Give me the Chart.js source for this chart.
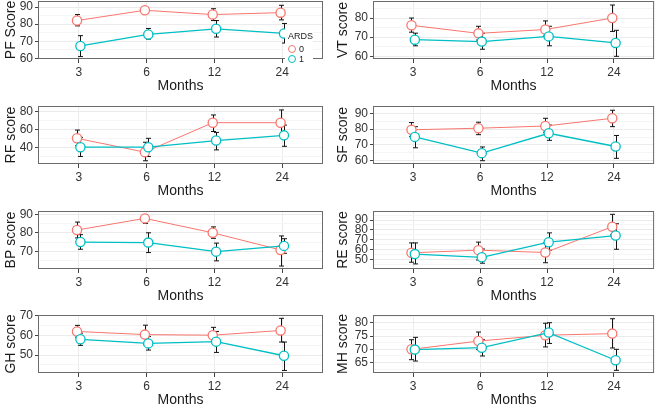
<!DOCTYPE html>
<html>
<head>
<meta charset="utf-8">
<script src="https://cdn.jsdelivr.net/npm/chart.js@4.4.0/dist/chart.umd.min.js"></script>
<style>
  html, body { margin: 0; padding: 0; background: #fff; }
  #wrap { position: relative; width: 660px; height: 408px; overflow: hidden; background: #fff; }
  #wrap canvas { position: absolute; }
  #legend { position: absolute; left: 285px; top: 28px; width: 28px; height: 36px; background: #fff;
            font-family: 'Liberation Sans', Arial, sans-serif; font-size: 9px; color: #222; }
  #legend .t { position: absolute; left: 3px; top: 3px; }
  #legend .k { position: absolute; left: 3px; width: 8px; height: 8px; border-radius: 50%; background: #fff; box-sizing: border-box; }
  #legend .l { position: absolute; left: 14px; }
</style>
</head>
<body>
<div id="wrap">
  <div id="legend">
    <div class="t">ARDS</div>
    <div class="k" style="top:17px;border:1.2px solid #F8766D"></div><div class="l" style="top:16px">0</div>
    <div class="k" style="top:27px;border:1.2px solid #00BFC4"></div><div class="l" style="top:26px">1</div>
  </div>
</div>
<script>
const months = ['3', '6', '12', '24'];

// PF
const pf0 = [82.1, 88.1, 85.6, 86.7], pf0Lo = [79.0, 86.4, 82.1, 82.5], pf0Hi = [85.6, 89.8, 89.0, 91.0];
const pf1 = [67.3, 74.0, 77.3, 74.6], pf1Lo = [61.1, 71.3, 72.5, 69.0], pf1Hi = [73.3, 77.5, 82.1, 80.4];
const pfTicks = [60, 70, 80, 90], pfRange = [59.7, 93.5];
// VT
const vt0 = [76.2, 72.0, 74.0, 80.0], vt0Lo = [72.6, 68.5, 70.6, 73.0], vt0Hi = [80.0, 75.7, 78.5, 86.8];
const vt1 = [68.7, 67.7, 70.4, 67.0], vt1Lo = [65.5, 63.7, 65.5, 60.0], vt1Hi = [72.1, 72.0, 75.7, 73.6];
const vtTicks = [60, 70, 80], vtRange = [58.6, 88.9];
// RF
const rf0 = [49.9, 34.5, 67.3, 67.3], rf0Lo = [41.8, 24.9, 57.5, 53.9], rf0Hi = [59.1, 45.5, 75.9, 81.5];
const rf1 = [40.0, 40.0, 47.4, 53.2], rf1Lo = [29.7, 29.7, 37.0, 41.0], rf1Hi = [51.0, 49.9, 56.5, 64.6];
const rfTicks = [40, 60, 80], rfRange = [21.3, 85.9];
// SF
const sf0 = [79.6, 80.6, 82.0, 86.9], sf0Lo = [75.4, 76.5, 78.0, 81.6], sf0Hi = [84.2, 84.4, 86.9, 92.0];
const sf1 = [75.1, 64.8, 77.4, 69.0], sf1Lo = [68.2, 60.0, 72.9, 61.5], sf1Hi = [81.6, 68.7, 82.6, 76.0];
const sfTicks = [60, 70, 80, 90], sfRange = [57.9, 94.7];
// BP
const bp0 = [81.5, 87.8, 80.0, 70.7], bp0Lo = [77.2, 85.1, 77.0, 62.0], bp0Hi = [85.8, 89.8, 83.2, 78.3];
const bp1 = [75.0, 74.7, 69.8, 72.9], bp1Lo = [71.1, 69.3, 64.8, 68.9], bp1Hi = [79.0, 80.0, 74.4, 76.8];
const bpTicks = [70, 80, 90], bpRange = [60.4, 91.8];
// RE
const re0 = [56.6, 59.3, 56.9, 83.2], re0Lo = [47.0, 49.3, 46.5, 74.9], re0Hi = [66.7, 67.5, 66.7, 95.8];
const re1 = [55.3, 52.0, 67.4, 74.2], re1Lo = [45.3, 46.0, 59.2, 60.2], re1Hi = [66.7, 60.5, 76.9, 86.2];
const reTicks = [50, 60, 70, 80, 90], reRange = [40.1, 99.2];
// GH
const gh0 = [62.1, 60.5, 60.2, 62.6], gh0Lo = [59.2, 55.5, 56.7, 56.7], gh0Hi = [65.2, 65.3, 64.2, 68.8];
const gh1 = [58.1, 56.0, 56.9, 49.7], gh1Lo = [55.0, 52.6, 51.4, 42.2], gh1Hi = [61.2, 59.5, 62.1, 56.7];
const ghTicks = [50, 60, 70], ghRange = [40.9, 70.5];
// MH
const mh0 = [70.0, 73.1, 75.3, 75.9], mh0Lo = [66.1, 69.9, 70.9, 70.5], mh0Hi = [73.6, 76.5, 79.8, 81.5];
const mh1 = [69.9, 70.6, 76.3, 65.9], mh1Lo = [65.6, 67.5, 72.2, 62.1], mh1Hi = [74.5, 73.6, 80.0, 70.0];
const mhTicks = [65, 70, 75, 80], mhRange = [61.1, 82.9];

const panels = [
  { title: 'PF Score', col: 0, row: 0, d: [pf0, pf0Lo, pf0Hi, pf1, pf1Lo, pf1Hi], ticks: pfTicks, range: pfRange },
  { title: 'VT score', col: 1, row: 0, d: [vt0, vt0Lo, vt0Hi, vt1, vt1Lo, vt1Hi], ticks: vtTicks, range: vtRange },
  { title: 'RF score', col: 0, row: 1, d: [rf0, rf0Lo, rf0Hi, rf1, rf1Lo, rf1Hi], ticks: rfTicks, range: rfRange },
  { title: 'SF score', col: 1, row: 1, d: [sf0, sf0Lo, sf0Hi, sf1, sf1Lo, sf1Hi], ticks: sfTicks, range: sfRange },
  { title: 'BP score', col: 0, row: 2, d: [bp0, bp0Lo, bp0Hi, bp1, bp1Lo, bp1Hi], ticks: bpTicks, range: bpRange },
  { title: 'RE score', col: 1, row: 2, d: [re0, re0Lo, re0Hi, re1, re1Lo, re1Hi], ticks: reTicks, range: reRange },
  { title: 'GH score', col: 0, row: 3, d: [gh0, gh0Lo, gh0Hi, gh1, gh1Lo, gh1Hi], ticks: ghTicks, range: ghRange },
  { title: 'MH score', col: 1, row: 3, d: [mh0, mh0Lo, mh0Hi, mh1, mh1Lo, mh1Hi], ticks: mhTicks, range: mhRange }
];

// layout of the grid
const colX = [0, 330], colW = 330;
const plotL = [38, 373], plotR = [323, 655];
const rowT = [1, 106, 211, 315], rowB = [59, 164, 269, 373];
const padTop = 10, xAxisH = 37;
const RED = '#F8766D', TEAL = '#00BFC4';
const FONT = "'Liberation Sans', Arial, sans-serif";
Chart.defaults.font.family = FONT;

// error bars + panel border
const errorBars = {
  id: 'errorBars',
  beforeDatasetsDraw(chart) {
    const c = chart.ctx, y = chart.scales.y;
    c.save();
    c.strokeStyle = '#141414';
    c.lineWidth = 1;
    chart.data.datasets.forEach((ds, di) => {
      chart.getDatasetMeta(di).data.forEach((pt, i) => {
        const x = Math.round(pt.x) + 0.5;
        const y1 = y.getPixelForValue(ds.lo[i]), y2 = y.getPixelForValue(ds.hi[i]);
        c.beginPath();
        c.moveTo(x, y1); c.lineTo(x, y2);
        c.moveTo(x - 2.5, y1); c.lineTo(x + 2.5, y1);
        c.moveTo(x - 2.5, y2); c.lineTo(x + 2.5, y2);
        c.stroke();
      });
    });
    c.restore();
  },
  afterDraw(chart) {
    const a = chart.chartArea, c = chart.ctx;
    c.save();
    c.strokeStyle = '#6b6b6b';
    c.lineWidth = 1;
    c.strokeRect(a.left + 0.5, a.top + 0.5, a.right - a.left - 1, a.bottom - a.top - 1);
    c.restore();
  }
};

const wrap = document.getElementById('wrap');
const legendEl = document.getElementById('legend');

panels.forEach(p => {
  const top = rowT[p.row] - padTop;
  const h = rowB[p.row] - rowT[p.row] + padTop + xAxisH;
  const cv = document.createElement('canvas');
  cv.width = colW; cv.height = h;
  cv.style.left = colX[p.col] + 'px';
  cv.style.top = top + 'px';
  wrap.insertBefore(cv, legendEl);

  const yW = plotL[p.col] - colX[p.col];
  const padR = colX[p.col] + colW - plotR[p.col];
  const step = p.ticks[1] - p.ticks[0];
  const allTicks = [];
  for (let v = p.ticks[0] - step / 2; v <= p.range[1]; v += step / 2) {
    if (v >= p.range[0]) allTicks.push(v);
  }
  const isMajor = v => p.ticks.includes(v);

  const mk = (vals, lo, hi, color, dx, order, bw) => ({
    data: vals.map((v, i) => ({ x: i + dx, y: v })),
    lo: lo, hi: hi,
    borderColor: color, borderWidth: bw,
    pointRadius: 4.6, pointBorderWidth: 1.3,
    pointBackgroundColor: '#fff', pointBorderColor: color,
    tension: 0, order: order, clip: false
  });

  new Chart(cv, {
    type: 'line',
    data: {
      datasets: [
        mk(p.d[0], p.d[1], p.d[2], RED, -0.025, 2, 1),
        mk(p.d[3], p.d[4], p.d[5], TEAL, 0.025, 1, 1.3)
      ]
    },
    options: {
      responsive: false, animation: false, maintainAspectRatio: false,
      layout: { padding: { top: padTop, right: padR, left: 0, bottom: 0 } },
      plugins: { legend: { display: false }, tooltip: { enabled: false } },
      scales: {
        x: {
          type: 'linear', min: -0.6, max: 3.6,
          afterBuildTicks: s => { s.ticks = months.map((m, i) => ({ value: i })); },
          afterFit: s => { s.height = xAxisH; s.paddingLeft = 0; s.paddingRight = 0; },
          grid: { color: '#EBEBEB', tickColor: '#444', tickLength: 4 },
          border: { display: false },
          ticks: { autoSkip: false, maxRotation: 0, color: '#333', font: { size: 12 }, padding: 2,
                   callback: v => months[v] },
          title: { display: true, text: 'Months', color: '#1a1a1a', font: { size: 14 }, padding: { top: 0, bottom: 1 } }
        },
        y: {
          min: p.range[0], max: p.range[1],
          afterBuildTicks: s => { s.ticks = allTicks.map(v => ({ value: v })); },
          afterFit: s => { s.width = yW; s.paddingTop = 0; s.paddingBottom = 0; },
          grid: {
            color: ctx => isMajor(ctx.tick.value) ? '#EBEBEB' : '#F5F5F5',
            tickColor: ctx => isMajor(ctx.tick.value) ? '#444' : 'rgba(0,0,0,0)',
            tickLength: 3
          },
          border: { display: false },
          ticks: { autoSkip: false, color: '#333', font: { size: 12 }, padding: 2,
                   callback: v => isMajor(v) ? String(v) : '' },
          title: { display: true, text: p.title, color: '#1a1a1a', font: { size: 14 },
                   padding: { top: p.col === 0 ? 3 : 5, bottom: 0 } }
        }
      }
    },
    plugins: [errorBars]
  });
});
</script>
</body>
</html>
